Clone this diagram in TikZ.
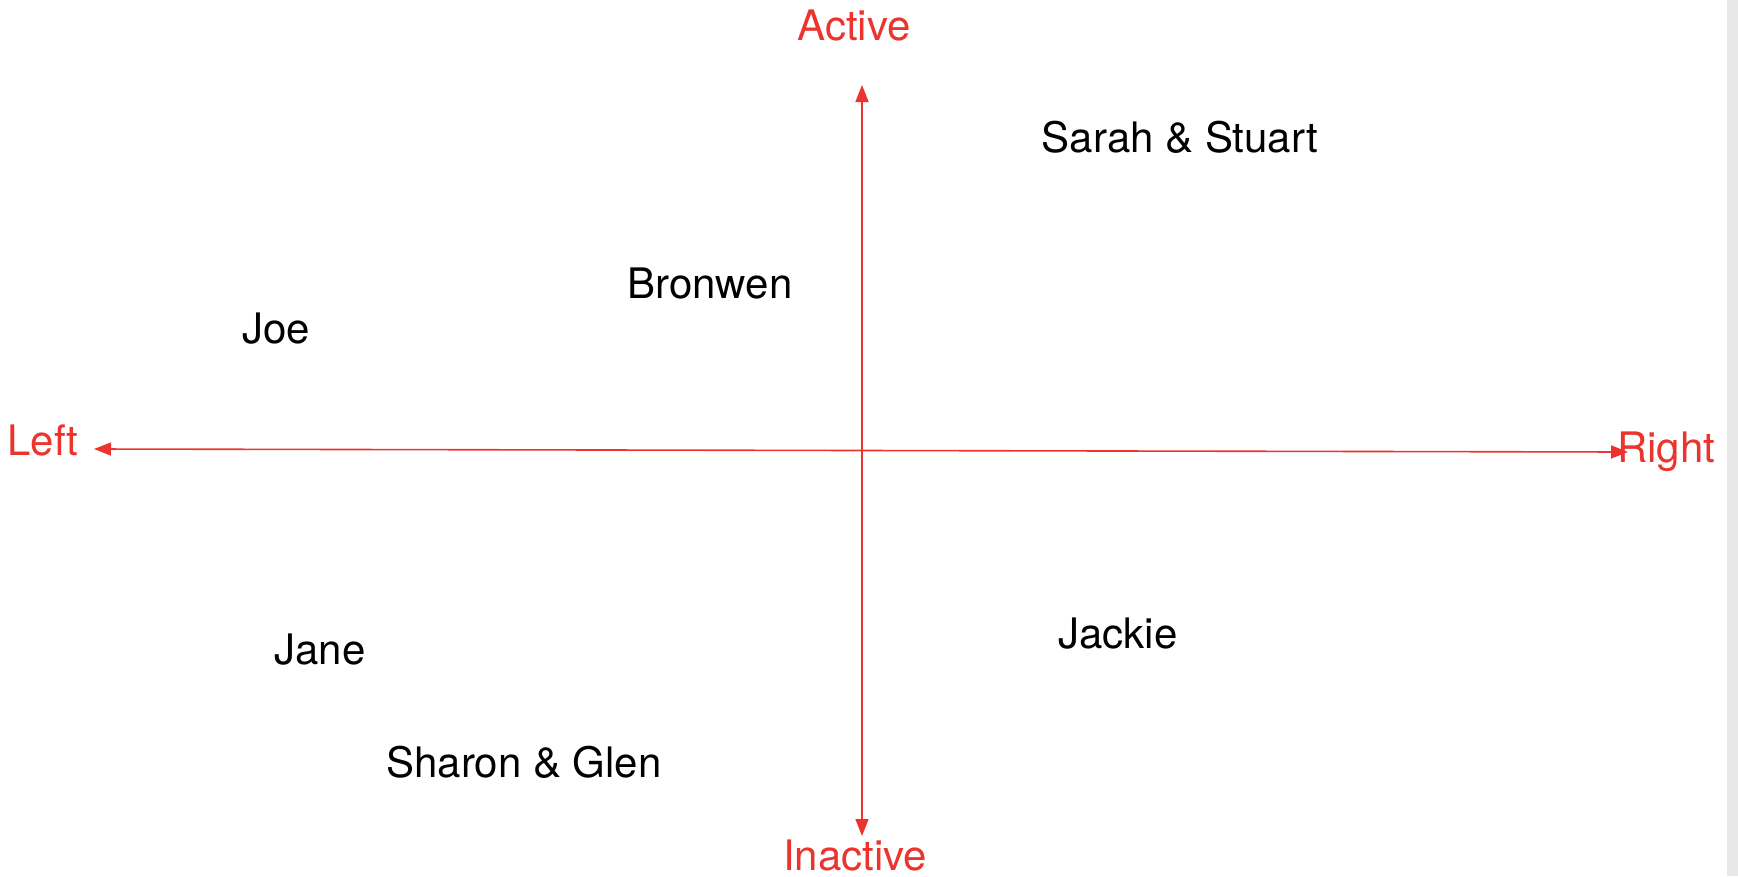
\documentclass[tikz,border=0pt]{standalone}
\usepackage{fontspec}
\setmainfont{TeX Gyre Heros}
\usetikzlibrary{arrows.meta}
\definecolor{axisred}{RGB}{236,52,46}
\definecolor{stripgray}{RGB}{232,232,232}
\begin{document}
\begin{tikzpicture}[x=1pt, y=-1pt,
		axis/.style={draw=axisred, line width=1.6pt, {Triangle[length=17pt,width=13pt]}-{Triangle[length=17pt,width=13pt]}},
		axislabel/.style={anchor=base, inner sep=0pt, text=axisred, font=\fontsize{42}{48}\selectfont},
		person/.style={anchor=base, inner sep=0pt, text=black, font=\fontsize{42}{48}\selectfont}]
		\useasboundingbox (0,0) rectangle (1738,876);
		\fill[stripgray] (1727,0) rectangle (1738,876);
		%Extremites des axes
		\coordinate (top) at (862,85);
		\coordinate (bottom) at (862,836);
		\coordinate (west) at (94,449);
		\coordinate (east) at (1628,452);
		%Axes
		\draw[axis] (top) -- (bottom);
		\draw[axis] (west) -- (east);
		%Etiquettes des axes
		\node[axislabel] (active) at (854,40) {Active};
		\node[axislabel] (inactive) at (855,870) {Inactive};
		\node[axislabel] (left) at (43,455) {Left};
		\node[axislabel] (right) at (1666,462) {Right};
		%Noms
		\node[person] (sarahstuart) at (1180,152) {Sarah \& Stuart};
		\node[person] (bronwen) at (710,298) {Bronwen};
		\node[person] (joe) at (276,343) {Joe};
		\node[person] (jane) at (320,664) {Jane};
		\node[person] (jackie) at (1118,648) {Jackie};
		\node[person] (sharonglen) at (524,777) {Sharon \& Glen};
\end{tikzpicture}
\end{document}
